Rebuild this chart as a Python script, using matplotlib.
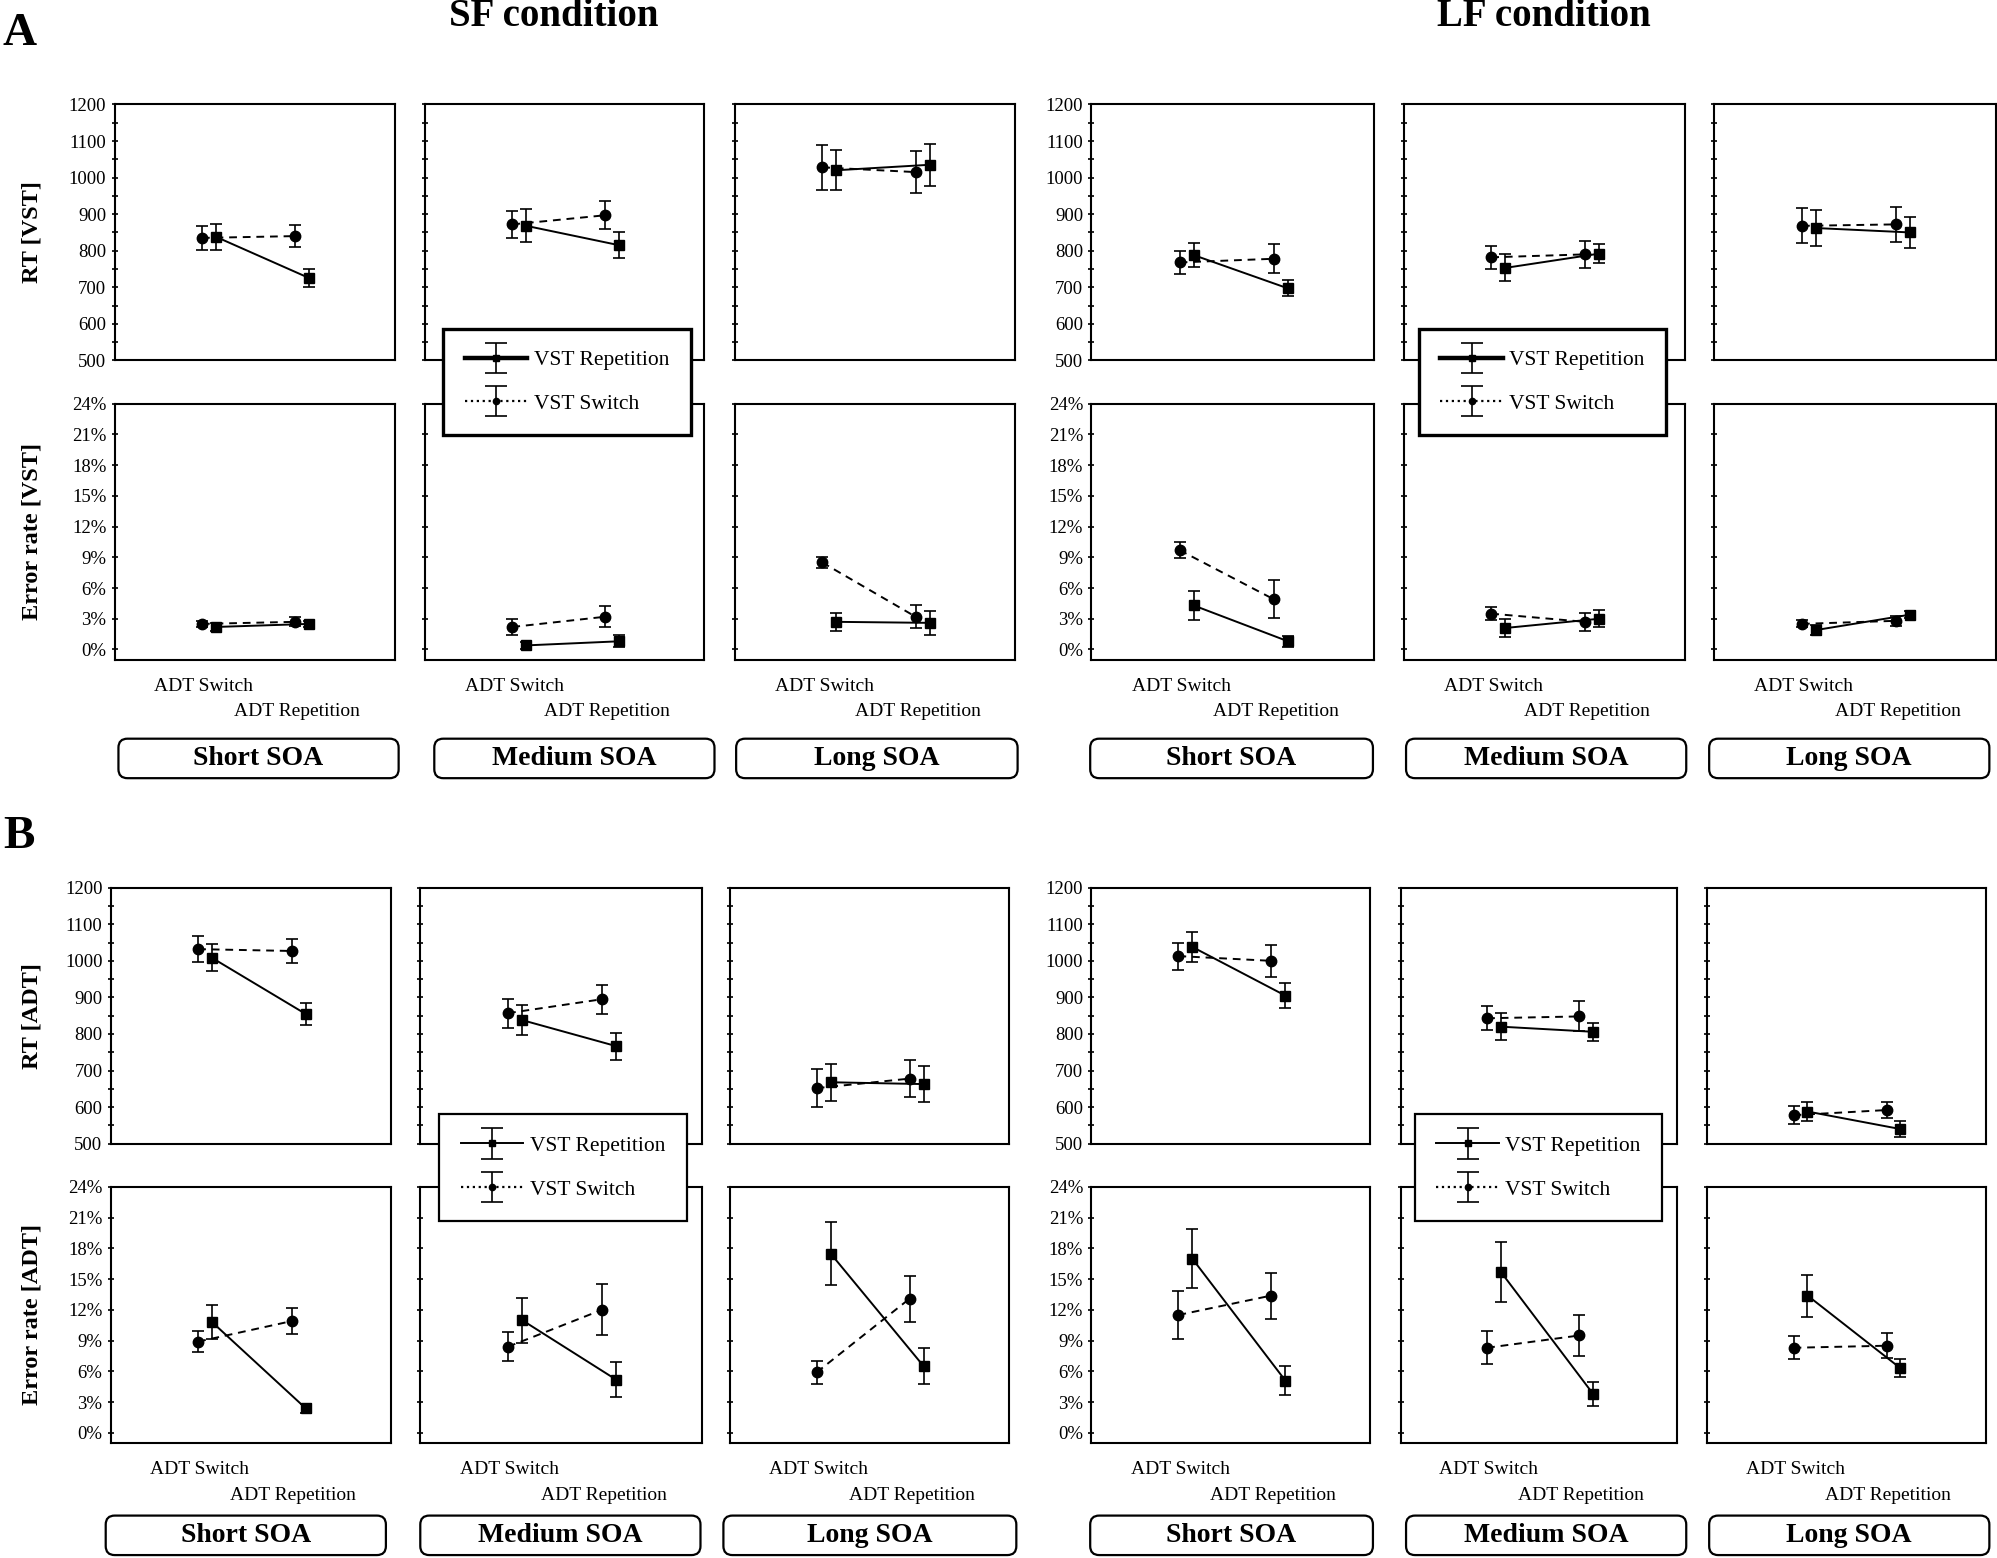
import matplotlib
matplotlib.use('Agg')
from matplotlib import pyplot as plt
from matplotlib.patches import FancyBboxPatch
from matplotlib.lines import Line2D
from matplotlib.container import ErrorbarContainer
from matplotlib.legend_handler import HandlerErrorbar
from matplotlib.ticker import MultipleLocator, FuncFormatter
import numpy as np

plt.rcParams['font.family'] = 'Liberation Serif'

conditions = ['SF condition', 'LF condition']
soa_labels = ['Short SOA', 'Medium SOA', 'Long SOA']
adt_labels = ['ADT Switch', 'ADT Repetition']
series_labels = ['VST Repetition', 'VST Switch']

# order of the 6 panels: SF short, SF medium, SF long, LF short, LF medium, LF long
# each entry: [ADT Switch, ADT Repetition]

# A: RT [VST]
rt_vst_switch = [[835, 840], [872, 897], [1028, 1015], [768, 778], [782, 790], [868, 872]]
rt_vst_switch_err = [[32, 30], [37, 38], [62, 57], [32, 40], [32, 36], [48, 47]]
rt_vst_rep = [[838, 725], [868, 815], [1020, 1035], [788, 697], [753, 792], [862, 850]]
rt_vst_rep_err = [[35, 25], [45, 35], [55, 58], [33, 22], [37, 26], [50, 43]]

# A: Error rate [VST] (%)
er_vst_switch = [[2.5, 2.7], [2.2, 3.2], [8.5, 3.2], [9.7, 4.9], [3.5, 2.7], [2.5, 2.8]]
er_vst_switch_err = [[0.3, 0.45], [0.75, 1.05], [0.55, 1.1], [0.75, 1.85], [0.65, 0.85], [0.35, 0.5]]
er_vst_rep = [[2.2, 2.5], [0.4, 0.8], [2.7, 2.6], [4.3, 0.8], [2.1, 3.0], [1.9, 3.4]]
er_vst_rep_err = [[0.4, 0.3], [0.35, 0.6], [0.9, 1.2], [1.45, 0.55], [0.9, 0.85], [0.45, 0.35]]

# B: RT [ADT]
rt_adt_switch = [[1032, 1027], [857, 895], [652, 678], [1013, 1000], [843, 848], [578, 592]]
rt_adt_switch_err = [[35, 34], [40, 39], [52, 51], [37, 43], [33, 41], [25, 23]]
rt_adt_rep = [[1008, 855], [838, 767], [668, 663], [1038, 905], [820, 806], [588, 540]]
rt_adt_rep_err = [[37, 31], [42, 37], [51, 50], [42, 35], [37, 25], [27, 21]]

# B: Error rate [ADT] (%)
er_adt_switch = [[8.9, 10.9], [8.4, 12.0], [5.9, 13.1], [11.5, 13.4], [8.3, 9.5], [8.3, 8.5]]
er_adt_switch_err = [[1.05, 1.25], [1.4, 2.5], [1.15, 2.25], [2.35, 2.25], [1.6, 2.0], [1.1, 1.2]]
er_adt_rep = [[10.8, 2.4], [11.0, 5.2], [17.5, 6.5], [17.0, 5.1], [15.7, 3.8], [13.4, 6.3]]
er_adt_rep_err = [[1.65, 0.45], [2.2, 1.7], [3.05, 1.75], [2.85, 1.45], [2.9, 1.15], [2.05, 0.9]]

# layout in reference pixel units (1568 x 1223 grid)
W, H = 1568.0, 1223.3
FW, FH = 19.97, 15.58

cols_a = [(90, 310), (334, 553), (577, 797), (857, 1079), (1102, 1323), (1346, 1567)]
cols_b = [(87, 307), (330, 551), (573, 792), (857, 1076), (1100, 1317), (1340, 1559)]
boxes_a = [(93, 313), (341, 561), (578, 799), (856, 1078), (1104, 1324), (1342, 1562)]
boxes_b = [(83, 303), (330, 550), (568, 798), (856, 1078), (1104, 1324), (1342, 1562)]

fig = plt.figure(figsize=(FW, FH), dpi=100)


def rect(x0, x1, y0, y1):
    return [x0 / W, 1 - y1 / H, (x1 - x0) / W, (y1 - y0) / H]


def draw(ax, sw, sw_e, rep, rep_e):
    xs = np.array([1.0, 2.0])
    h_sw = ax.errorbar(xs - 0.065, sw, yerr=sw_e, color='black', ls=(0, (4, 3)), lw=1.4,
                       marker='o', ms=7.5, capsize=4, elinewidth=1.2, capthick=1.2)
    h_rep = ax.errorbar(xs + 0.085, rep, yerr=rep_e, color='black', ls='-', lw=1.4,
                        marker='s', ms=7, capsize=4, elinewidth=1.2, capthick=1.2)
    ax.set_xlim(0, 3)
    for s in ax.spines.values():
        s.set_linewidth(1.5)
    ax.tick_params(axis='y', which='both', direction='inout', length=4, width=1.2,
                   labelsize=13.5, pad=4)
    return h_rep, h_sw


def style_rt(ax, show_labels):
    ax.set_ylim(500, 1200)
    ax.yaxis.set_major_locator(MultipleLocator(100))
    ax.yaxis.set_minor_locator(MultipleLocator(50))
    ax.set_xticks([])
    if not show_labels:
        ax.tick_params(axis='y', labelleft=False)


def style_er(ax, show_labels):
    ax.set_ylim(-1, 24)
    ax.yaxis.set_major_locator(MultipleLocator(3))
    ax.yaxis.set_major_formatter(FuncFormatter(lambda v, p: '%d%%' % v))
    ax.set_xticks([])
    tr = ax.get_xaxis_transform()
    ax.text(0.955, -0.104, adt_labels[0], transform=tr, ha='center', va='center', fontsize=14)
    ax.text(1.955, -0.204, adt_labels[1], transform=tr, ha='center', va='center', fontsize=14)
    if not show_labels:
        ax.tick_params(axis='y', labelleft=False)


def legend_updater(thick):
    def upd(leg_artist, orig):
        leg_artist.update_from(orig)
        if isinstance(leg_artist, Line2D):
            if orig.get_marker() in ('s', 'o'):
                leg_artist.set_markersize(4.5)
                if orig.get_linestyle() == '--':
                    leg_artist.set_linestyle(':')
                    leg_artist.set_linewidth(1.6)
                elif thick:
                    leg_artist.set_linewidth(3.2)
            elif orig.get_marker() == '_':
                leg_artist.set_markersize(16)
    return upd


def section(top, cols, boxes, data, ylabels, legend_boxes, thick, label_y):
    rt_y = (top, top + 201)
    er_y = (top + 235, top + 436)
    handles = None
    for i in range(6):
        x0, x1 = cols[i]
        ax_rt = fig.add_axes(rect(x0, x1, rt_y[0], rt_y[1]))
        h = draw(ax_rt, data[0][i], data[1][i], data[2][i], data[3][i])
        style_rt(ax_rt, i % 3 == 0)
        ax_er = fig.add_axes(rect(x0, x1, er_y[0], er_y[1]))
        draw(ax_er, data[4][i], data[5][i], data[6][i], data[7][i])
        style_er(ax_er, i % 3 == 0)
        if handles is None:
            handles = h
        # SOA label box
        bx0, bx1 = boxes[i]
        by0, by1 = label_y
        box = FancyBboxPatch((bx0 / W * FW, (1 - by1 / H) * FH),
                             (bx1 - bx0) / W * FW, (by1 - by0) / H * FH,
                             boxstyle='round,pad=0,rounding_size=0.09',
                             transform=fig.dpi_scale_trans, facecolor='white',
                             edgecolor='black', linewidth=1.6)
        fig.patches.append(box)
        fig.text((bx0 + bx1) / 2 / W, 1 - (by0 + by1) / 2 / H, soa_labels[i % 3],
                 ha='center', va='center', fontsize=20, fontweight='bold')
    fig.text(25 / W, 1 - (rt_y[0] + rt_y[1]) / 2 / H, ylabels[0], rotation=90,
             ha='center', va='center', fontsize=17.5, fontweight='bold')
    fig.text(25 / W, 1 - (er_y[0] + er_y[1]) / 2 / H, ylabels[1], rotation=90,
             ha='center', va='center', fontsize=17.5, fontweight='bold')
    for lx, ly in legend_boxes:
        leg = fig.legend(handles=list(handles), labels=series_labels, loc='upper left',
                         bbox_to_anchor=(lx / W, 1 - ly / H), bbox_transform=fig.transFigure,
                         frameon=True, fancybox=False, edgecolor='black', framealpha=1,
                         fontsize=15.5, handlelength=2.9, handletextpad=0.3, borderpad=1.0,
                         labelspacing=1.1, borderaxespad=0,
                         handler_map={ErrorbarContainer: HandlerErrorbar(
                             yerr_size=0.7, update_func=legend_updater(thick))})
        leg.get_frame().set_linewidth(2.4 if thick else 1.6)


section(82, cols_a, boxes_a,
        [rt_vst_switch, rt_vst_switch_err, rt_vst_rep, rt_vst_rep_err,
         er_vst_switch, er_vst_switch_err, er_vst_rep, er_vst_rep_err],
        ['RT [VST]', 'Error rate [VST]'], [(348, 258), (1114, 258)], True, (580, 611))

section(697, cols_b, boxes_b,
        [rt_adt_switch, rt_adt_switch_err, rt_adt_rep, rt_adt_rep_err,
         er_adt_switch, er_adt_switch_err, er_adt_rep, er_adt_rep_err],
        ['RT [ADT]', 'Error rate [ADT]'], [(345, 875), (1111, 875)], False, (1190, 1221))

fig.text(435 / W, 1 - 13 / H, conditions[0], ha='center', va='center',
         fontsize=28, fontweight='bold')
fig.text(1212 / W, 1 - 13 / H, conditions[1], ha='center', va='center',
         fontsize=28, fontweight='bold')
fig.text(15 / W, 1 - 27 / H, 'A', ha='center', va='center', fontsize=34, fontweight='bold')
fig.text(15 / W, 1 - 657 / H, 'B', ha='center', va='center', fontsize=34, fontweight='bold')

plt.savefig('out.png', dpi=100)
